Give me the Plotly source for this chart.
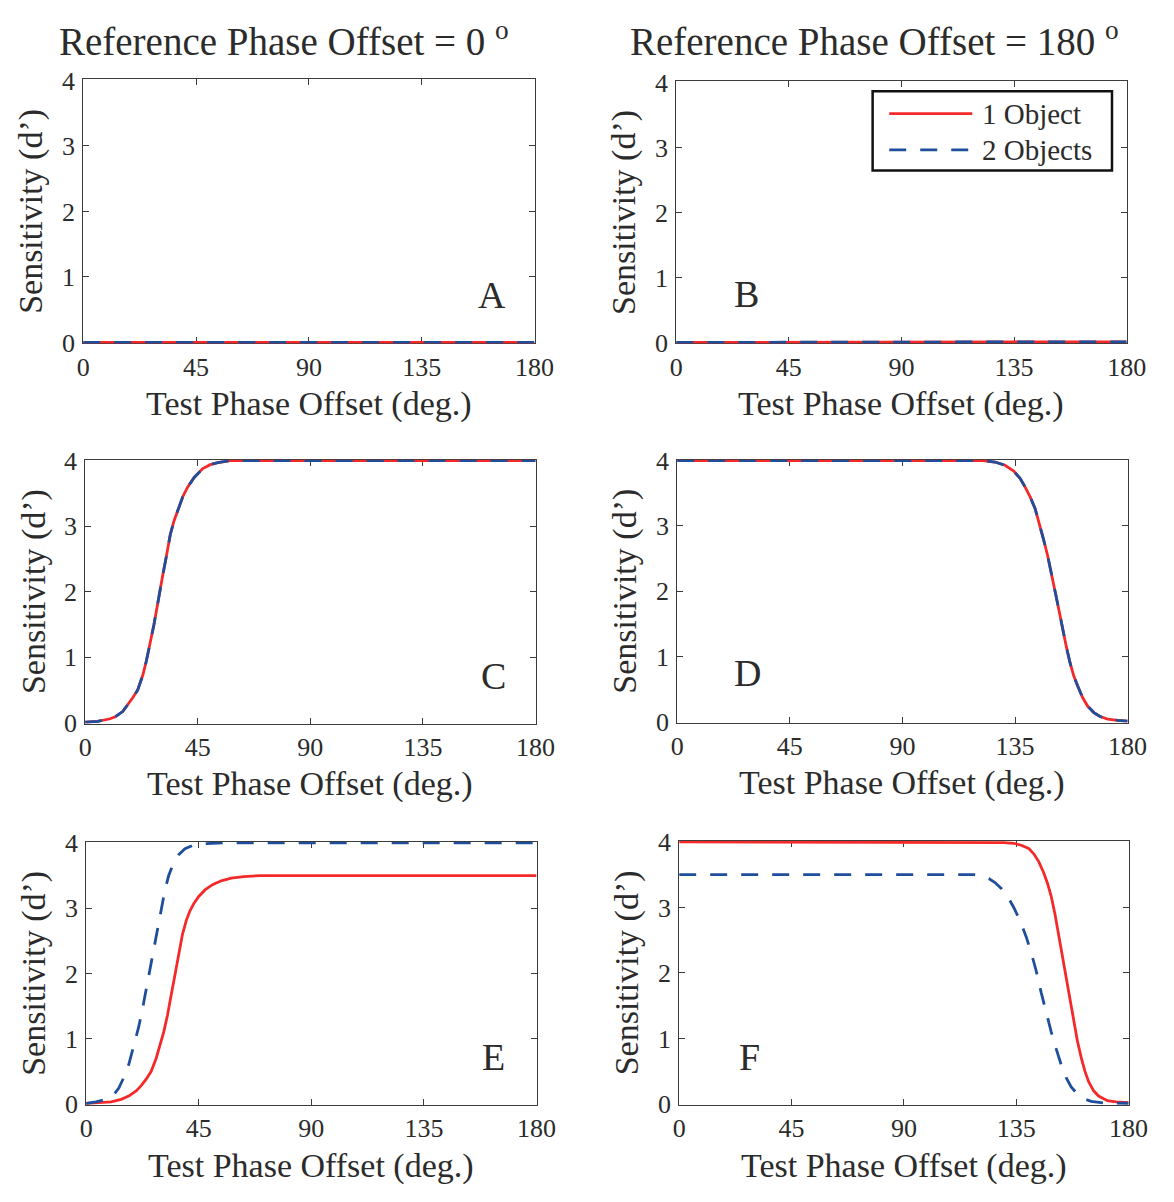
import plotly.graph_objects as go

W, H = 1174, 1202

# ---------------------------------------------------------------------------
# Data: test phase offset (deg.) vs. sensitivity (d') for each panel
# ---------------------------------------------------------------------------
x_ticks = [0, 45, 90, 135, 180]
y_ticks = [0, 1, 2, 3, 4]

# A: reference offset 0, no modulation
a_x = [0, 45, 90, 135, 180]
a_one = [0, 0, 0, 0, 0]
a_two = [0, 0, 0, 0, 0]

# B: reference offset 180, no modulation
b_x = [0, 45, 90, 135, 180]
b_one = [0, 0, 0, 0, 0.01]
b_two = [0, 0, 0, 0, 0.01]

# C: rising curve, identical for both conditions
c_x = [0, 5, 10, 12, 15, 17, 19, 21, 23, 24.5, 26, 27.5, 29, 30, 31, 32.5, 34,
       35.5, 37, 39, 41, 43.5, 47, 50, 53, 58, 70, 90, 120, 150, 180]
c_one = [0.01, 0.02, 0.06, 0.09, 0.17, 0.27, 0.38, 0.5, 0.72, 0.95, 1.2, 1.5,
         1.82, 2.05, 2.25, 2.55, 2.87, 3.08, 3.25, 3.45, 3.6, 3.74, 3.88, 3.94,
         3.97, 4.0, 4.0, 4.0, 4.0, 4.0, 4.0]
c_two = [0.01, 0.02, 0.06, 0.09, 0.17, 0.27, 0.38, 0.5, 0.72, 0.95, 1.2, 1.5,
         1.82, 2.05, 2.25, 2.55, 2.87, 3.08, 3.25, 3.45, 3.6, 3.74, 3.88, 3.94,
         3.97, 4.0, 4.0, 4.0, 4.0, 4.0, 4.0]

# D: falling curve, identical for both conditions
d_x = [0, 45, 90, 110, 122, 127, 131, 134.5, 137, 139, 141, 143, 145, 146.5,
       148, 149.5, 151, 152.5, 154, 155.5, 157, 158.5, 160, 162, 164, 166.5,
       169, 172, 176, 180]
d_one = [4.0, 4.0, 4.0, 4.0, 4.0, 3.98, 3.93, 3.84, 3.73, 3.6, 3.45, 3.27, 3.0,
         2.78, 2.55, 2.3, 2.0, 1.72, 1.42, 1.15, 0.9, 0.7, 0.55, 0.37, 0.24,
         0.14, 0.08, 0.04, 0.02, 0.01]
d_two = [4.0, 4.0, 4.0, 4.0, 4.0, 3.98, 3.93, 3.84, 3.73, 3.6, 3.45, 3.27, 3.0,
         2.78, 2.55, 2.3, 2.0, 1.72, 1.42, 1.15, 0.9, 0.7, 0.55, 0.37, 0.24,
         0.14, 0.08, 0.04, 0.02, 0.01]

# E: one object saturates lower and later than two objects
e_x_one = [0, 6, 10, 14, 17, 20, 22, 24, 26, 28, 29.5, 31, 32.5, 34, 35.5, 37,
           38.5, 40, 41.5, 43, 45, 47.5, 50.5, 54, 58, 63, 70, 90, 135, 180]
e_one = [0.01, 0.02, 0.03, 0.07, 0.12, 0.2, 0.28, 0.38, 0.5, 0.7, 0.9, 1.1,
         1.36, 1.68, 2.0, 2.33, 2.6, 2.81, 2.96, 3.07, 3.18, 3.28, 3.36, 3.42,
         3.46, 3.485, 3.5, 3.5, 3.5, 3.5]
e_x_two = [0, 4, 8, 11, 13, 15, 17, 19, 21, 22.5, 24, 25.5, 27, 28.5, 30, 31.5,
           33, 35, 37, 39.5, 43, 48, 55, 90, 135, 180]
e_two = [0.01, 0.03, 0.07, 0.14, 0.24, 0.4, 0.6, 0.88, 1.18, 1.45, 1.76, 2.05,
         2.4, 2.72, 3.02, 3.28, 3.5, 3.7, 3.82, 3.91, 3.97, 3.99, 4.0, 4.0, 4.0,
         4.0]

# F: two objects plateau lower and fall earlier than one object
f_x_one = [0, 45, 90, 120, 130, 134, 137, 140, 142, 144, 146, 147.5, 149, 150.5,
           152, 153.5, 155, 156.5, 158, 159.5, 161, 162.5, 164, 166, 168, 171.5,
           175, 180]
f_one = [4.0, 4.0, 4.0, 4.0, 3.99, 3.98, 3.95, 3.9, 3.82, 3.7, 3.53, 3.37, 3.17,
         2.9, 2.58, 2.25, 1.92, 1.58, 1.25, 0.96, 0.71, 0.5, 0.34, 0.2, 0.12,
         0.05, 0.03, 0.02]
f_x_two = [0, 45, 90, 118, 121, 124, 126.5, 129, 131.5, 134, 136.5, 139, 141,
           143, 145, 147, 149, 151, 153, 155, 157, 159.5, 162, 165, 170, 180]
f_two = [3.5, 3.5, 3.5, 3.5, 3.48, 3.44, 3.38, 3.29, 3.17, 3.0, 2.8, 2.55, 2.31,
         2.03, 1.7, 1.38, 1.1, 0.84, 0.6, 0.4, 0.26, 0.15, 0.08, 0.04, 0.015,
         0.01]

panel_letters = ["A", "B", "C", "D", "E", "F"]
series_names = ["1 Object", "2 Objects"]
col_titles = ["Reference Phase Offset = 0 <sup>o</sup>",
              "Reference Phase Offset = 180 <sup>o</sup>"]
x_title = "Test Phase Offset (deg.)"
y_title = "Sensitivity (d\u2019)"

panels = [
    (a_x, a_one, a_x, a_two),
    (b_x, b_one, b_x, b_two),
    (c_x, c_one, c_x, c_two),
    (d_x, d_one, d_x, d_two),
    (e_x_one, e_one, e_x_two, e_two),
    (f_x_one, f_one, f_x_two, f_two),
]

# ---------------------------------------------------------------------------
# Styling / layout
# ---------------------------------------------------------------------------
FONT = "Liberation Serif"
TXT = "#2b2b2b"
AXC = "#3c3c3c"
RED = "#f42a2a"
BLUE = "#1f4e9c"
LW = 2.8
DASH = "17px,14px"
Y_PAD = 0.015  # keeps lines lying on the frame fully visible

# plot-area boxes in pixels: (left, right, top, bottom)
boxes = [
    (78, 540, 68, 338),
    (685, 1146, 70, 338),
    (80, 541, 457, 727),
    (686, 1147, 457, 726),
    (81, 542, 848, 1117),
    (688, 1148, 847, 1117),
]
# panel letter positions in data units
letter_pos = [(163, 0.72), (28, 0.74), (163, 0.72), (28, 0.74), (163, 0.72), (28, 0.72)]


def px(x):
    return x / W


def py(y):
    return 1 - y / H


fig = go.Figure()
layout = dict(
    width=W, height=H,
    margin=dict(l=0, r=0, t=0, b=0),
    paper_bgcolor="white", plot_bgcolor="white",
    showlegend=False,
    font=dict(family=FONT, color=TXT),
)

annotations = []
shapes = []

for i, (box, (x1, y1, x2, y2)) in enumerate(zip(boxes, panels)):
    n = "" if i == 0 else str(i + 1)
    xa, ya = "x" + n, "y" + n
    l, r, t, b = box
    layout["xaxis" + n] = dict(
        domain=[px(l), px(r)], anchor=ya, range=[0, 180],
        tickvals=x_ticks, ticktext=[str(v) for v in x_ticks],
        showline=True, linecolor=AXC, linewidth=1, mirror="allticks",
        ticks="inside", ticklen=6, tickcolor=AXC, tickwidth=1,
        showgrid=False, zeroline=False, ticklabelstandoff=0,
        layer="below traces",
        tickfont=dict(family=FONT, size=26, color=TXT),
    )
    layout["yaxis" + n] = dict(
        domain=[py(b), py(t)], anchor=xa, range=[-Y_PAD, 4 + Y_PAD],
        tickvals=y_ticks, ticktext=[str(v) for v in y_ticks],
        showline=True, linecolor=AXC, linewidth=1, mirror="allticks",
        ticks="inside", ticklen=6, tickcolor=AXC, tickwidth=1,
        showgrid=False, zeroline=False, ticklabelstandoff=2,
        layer="below traces",
        tickfont=dict(family=FONT, size=26, color=TXT),
    )
    fig.add_trace(go.Scatter(
        x=x1, y=y1, mode="lines", name=series_names[0], xaxis=xa, yaxis=ya,
        line=dict(color=RED, width=LW), cliponaxis=False,
    ))
    fig.add_trace(go.Scatter(
        x=x2, y=y2, mode="lines", name=series_names[1], xaxis=xa, yaxis=ya,
        line=dict(color=BLUE, width=LW, dash=DASH), cliponaxis=False,
    ))
    # panel letter
    lx, ly = letter_pos[i]
    annotations.append(dict(
        x=lx, y=ly, xref=xa, yref=ya, text=panel_letters[i], showarrow=False,
        font=dict(family=FONT, size=38, color=TXT),
    ))
    # axis titles
    cx = (l + r) / 2
    annotations.append(dict(
        x=px(cx), y=py(b + 62), xref="paper", yref="paper", text=x_title,
        showarrow=False, xanchor="center", yanchor="middle",
        font=dict(family=FONT, size=34, color=TXT),
    ))
    annotations.append(dict(
        x=px(l - 53), y=py((t + b) / 2), xref="paper", yref="paper",
        text=y_title, showarrow=False, textangle=-90,
        xanchor="center", yanchor="middle",
        font=dict(family=FONT, size=34, color=TXT),
    ))

# column titles
for cx, txt in zip([284, 888], col_titles):
    annotations.append(dict(
        x=px(cx), y=py(27), xref="paper", yref="paper", text=txt,
        showarrow=False, xanchor="center", yanchor="middle",
        font=dict(family=FONT, size=39, color=TXT),
    ))

# legend inside panel B
lg_l, lg_r, lg_t, lg_b = 886, 1131, 80, 161
shapes.append(dict(type="rect", xref="paper", yref="paper",
                   x0=px(lg_l), x1=px(lg_r), y0=py(lg_b), y1=py(lg_t),
                   line=dict(color="#111111", width=2.5), fillcolor="white"))
for row_y, color, dash, name in [(103, RED, "solid", series_names[0]),
                                 (140, BLUE, DASH, series_names[1])]:
    shapes.append(dict(type="line", xref="paper", yref="paper",
                       x0=px(903), x1=px(988), y0=py(row_y), y1=py(row_y),
                       line=dict(color=color, width=LW, dash=dash)))
    annotations.append(dict(
        x=px(996), y=py(row_y), xref="paper", yref="paper", text=name,
        showarrow=False, xanchor="left", yanchor="middle",
        font=dict(family=FONT, size=29, color=TXT),
    ))

layout["annotations"] = annotations
layout["shapes"] = shapes
fig.update_layout(**layout)

fig.write_html("out.html")
